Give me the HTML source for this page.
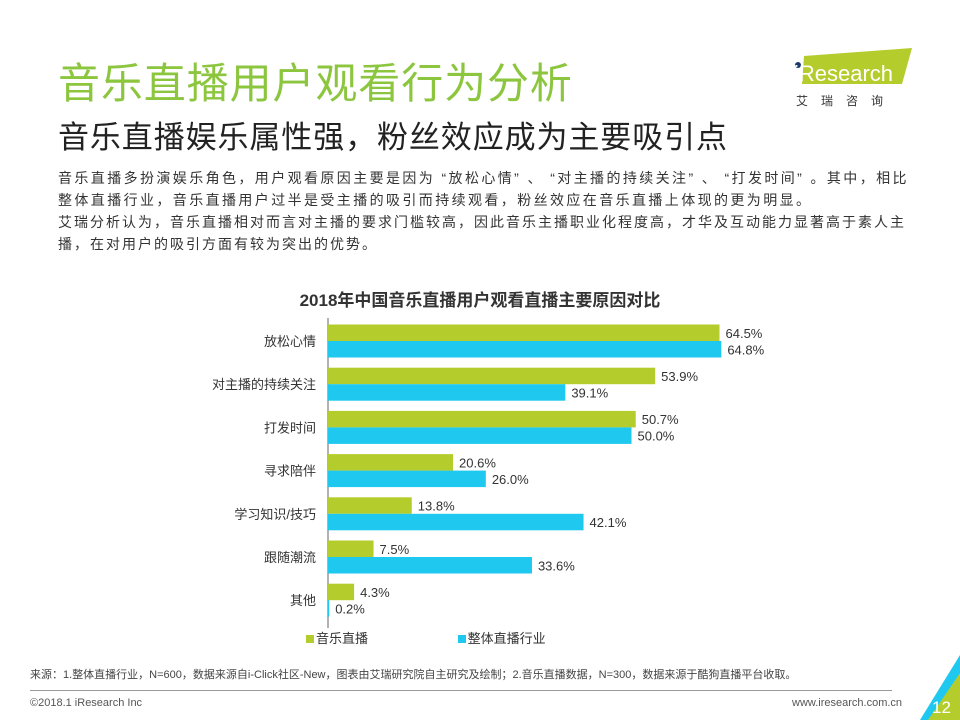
<!DOCTYPE html>
<html><head><meta charset="utf-8">
<style>
body{margin:0;width:960px;height:720px;background:#fff;position:relative;overflow:hidden;font-family:"Liberation Sans","Noto Sans CJK SC",sans-serif;}
.abs{position:absolute;}
.desc div{white-space:nowrap;}
</style></head><body>
<div class="abs" style="left:58px;top:50px;font-size:42px;color:#8cc63f;letter-spacing:0.9px;">音乐直播用户观看行为分析</div>
<div class="abs" style="left:58px;top:112px;font-size:31px;color:#222;letter-spacing:0.9px;">音乐直播娱乐属性强，粉丝效应成为主要吸引点</div>
<div class="abs" style="left:790px;top:46px;width:130px;height:64px;">
<svg width="130" height="64"><polygon points="14,10 122,2 112,38 12,38" fill="#b5cd2c"/><circle cx="8" cy="19" r="3" fill="#1a3a6b"/><text x="4" y="35" font-size="22" fill="#fff" font-family="Liberation Sans">iResearch</text><text x="6" y="59" font-size="12" fill="#333" letter-spacing="13" font-family="Noto Sans CJK SC">艾瑞咨询</text></svg></div>
<div class="abs desc" style="left:58px;top:167px;font-size:14px;line-height:22px;color:#333;letter-spacing:2.4px;">
<div>音乐直播多扮演娱乐角色，用户观看原因主要是因为 “放松心情” 、 “对主播的持续关注” 、 “打发时间” 。其中，相比</div>
<div>整体直播行业，音乐直播用户过半是受主播的吸引而持续观看，粉丝效应在音乐直播上体现的更为明显。</div>
<div style="letter-spacing:2.0px">艾瑞分析认为，音乐直播相对而言对主播的要求门槛较高，因此音乐主播职业化程度高，才华及互动能力显著高于素人主</div>
<div style="letter-spacing:2.0px">播，在对用户的吸引方面有较为突出的优势。</div></div>
<div class="abs" style="left:0;width:960px;top:286px;text-align:center;font-size:17px;font-weight:bold;color:#333;">2018年中国音乐直播用户观看直播主要原因对比</div>
<svg id="chart" class="abs" style="left:0;top:0" width="960" height="720"></svg>
<div class="abs" style="left:306px;top:628px;font-size:13px;color:#333;">
<span><span style="display:inline-block;width:8px;height:8px;background:#b5cd2c;margin-right:2px"></span>音乐直播</span>
<span style="margin-left:86px"><span style="display:inline-block;width:8px;height:8px;background:#1ec8ee;margin-right:2px"></span>整体直播行业</span></div>
<div class="abs" style="left:30px;top:666px;font-size:11px;color:#444;">来源：1.整体直播行业，N=600，数据来源自i-Click社区-New，图表由艾瑞研究院自主研究及绘制；2.音乐直播数据，N=300，数据来源于酷狗直播平台收取。</div>
<div class="abs" style="left:30px;top:690px;width:862px;height:1px;background:#999;"></div>
<div class="abs" style="left:30px;top:697px;font-size:11px;color:#555;">©2018.1 iResearch Inc</div>
<div class="abs" style="left:792px;top:697px;font-size:11px;color:#555;">www.iresearch.com.cn</div>
<svg class="abs" style="left:900px;top:655px" width="60" height="65"><polygon points="60,0 60,65 20,65" fill="#1ec8ee"/><polygon points="60,18 60,65 28,65" fill="#b5cd2c"/><text x="32" y="58" font-size="17" fill="#fff" font-family="Liberation Sans">12</text></svg>
<script>
const categories=["放松心情","对主播的持续关注","打发时间","寻求陪伴","学习知识/技巧","跟随潮流","其他"];
const musicValues=[64.5,53.9,50.7,20.6,13.8,7.5,4.3];
const industryValues=[64.8,39.1,50.0,26.0,42.1,33.6,0.2];
const svg=document.getElementById('chart');
const NS='http://www.w3.org/2000/svg';
const x0=328,scale=6.07,y0=341,step=43.2,bh=16.5;
const xs=v=>x0+v*scale;
const yc=i=>y0+i*step;
function mk(t,a){const e=document.createElementNS(NS,t);for(const k in a)e.setAttribute(k,a[k]);svg.appendChild(e);return e;}
const ax=mk('line',{x1:x0,x2:x0,y1:318,y2:628,stroke:'#666','stroke-width':1});


categories.forEach((c,i)=>{
 const t=mk('text',{x:x0-12,y:yc(i)+5,'text-anchor':'end','font-size':13,fill:'#333','font-family':'Liberation Sans, Noto Sans CJK SC, sans-serif'});
 t.textContent=c;
 
 
 [[musicValues,'#b5cd2c',-bh],[industryValues,'#1ec8ee',0]].forEach(([arr,col,off],s)=>{
  const v=arr[i];
  const r=mk('rect',{x:x0,y:yc(i)+off,width:xs(v)-x0,height:bh,fill:col});
  
  
  const l=mk('text',{x:xs(v)+6,y:yc(i)+off+bh/2+5,'font-size':13,fill:'#333','font-family':'Liberation Sans, sans-serif'});
  l.textContent=v.toFixed(1)+'%';
  
  
 });
});
</script>
</body></html>
